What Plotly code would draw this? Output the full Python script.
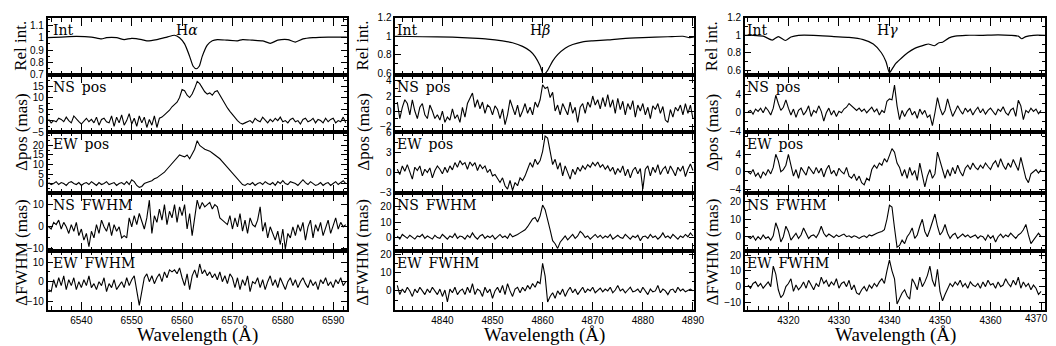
import plotly.graph_objects as go

# ---------------- data ----------------
lines = ["H<i>α</i>", "H<i>β</i>", "H<i>γ</i>"]
line_label_x = [6561.0, 4859.5, 4339.7]
row_labels = ["Int", "NS\u2002pos", "EW\u2002pos", "NS\u2002FWHM", "EW\u2002FWHM"]
noisy_start = [6533.5, 4831.0, 4312.0]
noisy_step = 0.5

# H-alpha
ha_int_wl = [6533,6536,6539,6542,6544,6545,6547,6548.5,6550,6552,6553,6555,6557,6558.5,6559.5,
             6560.5,6561.5,6562.2,6562.8,6563.4,6564,6565,6566,6567,6569,6571,6572,6574,6576,6577.5,
             6579,6581,6582.5,6584,6586,6589,6593]
ha_int = [1.0,1.005,1.01,1.005,0.99,1.0,1.0,0.985,0.995,0.985,0.975,0.985,1.005,1.02,1.0,
          0.95,0.85,0.77,0.75,0.77,0.85,0.94,0.975,0.985,0.98,0.975,0.985,0.98,0.975,0.955,
          0.98,0.985,0.965,0.99,1.0,1.005,1.005]
ha_ns_pos = [0.5,-1,0,-0.5,1,0.5,-0.5,1.5,0,-1,2,0.5,-0.5,-1.5,0,1,-0.5,0.5,-1,1.5,-2,0.5,1,-0.5,
             -1,2,-2.5,1.5,-1,2.5,-2,0,3,-1.5,1,-2.5,2,-1,1.5,-3,0.5,-2,2,-3,
             1,1.5,2.5,3.5,4.5,6,7,8,10,13.5,13,11,10,11.5,14,17,
             16,14,12.5,11.5,12,11,12.5,13,11,9,7,5.5,4,2.5,1,0,-1,-1.5,
             -1,-0.5,0,-1,1,0,-0.5,1.5,0,-1,0.5,-0.5,1,0,1.5,-0.5,0,-1,0.5,1,-0.5,0,-1.5,0.5,1,-0.5,
             0,1,-1,0.5,0,-1,1,-0.5,0.5,1,-1,0,-0.5,1.5,-1]
ha_ew_pos = [0.5,-0.5,0,1,-0.5,0.5,0,-1,0.5,1,0,-0.5,0.5,-1,0,0.5,-0.5,1,0,-1,0.5,-0.5,0,1,-0.5,0,0.5,-1,0,0.5,-0.5,1,-0.5,2,
             1,-1,-2,-1.5,0,
             0.5,1,1.5,2.5,3,4,5,6,7.5,9,10.5,12,13.5,15,14.5,14,15,13,15.5,18,22.5,20,
             19,18,17.5,17,16,15,14,13,11.5,10,8.5,7,5.5,4,2.5,1,-0.5,
             -1,0,-0.5,0.5,-1,0,0.5,-0.5,1,0,-0.5,0.5,-1,1,0,1.5,0,-0.5,1,0.5,0,-1,0.5,2,0.5,-0.5,1,0,-1,-0.5,
             0.5,-1,0,0.5,-1,0,1,-0.5,0.5,1.5,0]
ha_ns_fwhm = [0,-1,2,1,3,-1,2,0,-3,1,-2,2,-4,-1,-6,-3,-9,-2,-5,1,-3,3,0,-2,2,-4,1,-2,0,-5,-4,-5,
              4,0,5,1,6,2,-1,4,12,-3,
              5,2,8,3,10,1,7,4,10,2,9,5,10,-1,6,-4,3,
              12,8,11,9,10,11,8,10,9,4,
              3,2,1,5,-1,4,0,6,-2,3,-3,4,1,0,3,9,
              -2,2,-5,0,-3,-6,-2,-8,-1,-10,-3,
              -5,0,-4,1,-2,2,-6,0,3,-5,1,-2,2,-4,0,3,-3,1,4,-1,2,0,1]
ha_ew_fwhm = [-4,-5,1,-3,2,-2,3,-4,1,-2,2,-4,0,-3,1,-2,3,-3,-1,-4,0,-2,2,-5,-1,-3,1,-4,-2,0,-3,2,-2,1,
              3,-4,-12,-5,2,4,
              0,3,-1,2,4,0,5,2,
              6,5,6,4,7,2,-2,4,-4,3,6,2,9,
              4,6,3,5,2,4,1,5,0,3,-1,4,2,
              -3,2,-4,1,-2,3,-5,0,-1,2,-3,1,-4,0,3,-2,1,-3,2,-1,-4,0,2,-2,1,-3,0,2,-1,-3,1,-2,0,-4,1,-1,2,-2,0,-3,1,-1,2,-2,0]

# H-beta
hb_int_wl = [4830.5,4836,4842,4846,4849,4852,4854,4856,4857.5,4858.5,4859.5,4860.2,4861,4862,4863,
             4864.5,4866,4868,4870,4873,4876,4880,4885,4888,4889.3,4890,4890.5]
hb_int = [1.0,0.995,0.99,0.98,0.97,0.95,0.93,0.89,0.84,0.78,0.68,0.58,0.63,0.73,0.8,
          0.87,0.91,0.94,0.95,0.96,0.975,0.985,0.995,1.0,0.985,0.99,1.0]
hb_ns_pos = [1.2,-1,0.5,1.5,1,-0.5,1.5,0,-1,0.5,1,-0.5,-1,0.8,0,
             -1,-0.5,-1.2,0,-1.5,-0.8,-1.2,0.3,-1,-0.5,-1.5,0.5,-0.8,1,1.8,
             2.4,0.5,1.5,0.3,1.2,-0.3,0.8,0.5,-0.5,0.7,0.2,-1,0.3,
             -1.8,-0.5,1.5,0.5,-0.5,0.8,-0.8,0,1,-0.3,0.5,-0.5,1.2,0.5,1.5,
             3.5,3,3.2,1.8,2.5,0,0.8,
             -0.5,1,0.2,-0.5,1.2,-0.3,0.5,-1.5,0.5,1,-0.3,1.2,0.5,2,0.8,1.5,0.3,1.8,0.6,
             2.2,0.5,1.5,-0.3,1.7,0.2,1.3,-0.5,1,0.2,1.4,-0.8,0.8,0,1,-0.5,0.5,-1,0.7,0.2,1,-0.3,0.6,-1.2,-1.5,
             0.2,-0.8,0.5,0,0.8,-0.5,1,-0.3,0.8,-1]
hb_ew_pos = [0.5,-0.3,1,0.2,1.2,0,-1,0.8,0.3,1,-0.5,0.5,0,0.7,-0.8,
             0.3,1,0.5,-0.2,0.8,0,1,0.4,1.5,0.8,1.8,1.2,1.5,0.5,1.6,
             1,1.5,0.3,1.2,0.6,1,0,0.5,-0.5,-0.3,-1,
             -1.5,-0.8,-2,-2.5,-1.2,-2.7,-1.5,-2,-0.8,-1.2,
             -0.5,0.5,1.5,0.8,2,1.2,1.8,
             3.2,5.5,5.2,3,1.2,2,
             0.5,1.5,-0.5,1,0,-1,0.5,-0.3,0.8,0.2,1,0.5,1.2,0.8,1.5,1,1.6,0.8,1.2,
             0.5,1,0.2,0.8,-0.3,0.6,0,1,-0.5,0.5,-0.8,0.3,0.8,-0.2,0.6,-2.5,0.5,1,-0.5,0.8,0,1.2,-0.3,0.5,0.9,
             -0.2,1,0.3,-0.5,0.8,0.2,1,-0.6,0.5,1.3,0.3]
hb_ns_fwhm = [1,-1,2,0.5,-0.5,1.5,0,-1,1,0.5,2,-0.5,1,0,-1,
              1.5,0,-0.5,2,0.5,-1,1,0,2.5,-0.5,1,0.5,-1,1.5,0,3,
              0.5,-1,1,2,-0.5,1,0,1.5,-1,0.5,2,0,1,-0.5,2.5,0.5,1,2,
              3,4,5,7,10,12,13,10,14,21,
              18,12,5,-2,-4,-7,-3,-1,
              1,-1.5,0.5,2,-0.5,1,4,2.5,0,1,-1,0.5,2,0,1.5,-0.5,
              1,0,2,-1,0.5,1.5,0,-0.5,2,0.5,-1,1,0,1.5,-2,0.5,1,-0.5,2,0,1,-1,0.5,3,0,1,-0.5,2,0.5,-1,1,0,2,0.5,3,1]
hb_ew_fwhm = [3,-2,1,-1,2,0,-3,1,-1,2,0,-2,1,-1,2,
              0,-2,1,-3,0.5,-6,1,-1,2,-2,0,1,-2,2,-1,4,
              -2,1,0,-3,2,-1,1,-4,0,2,-1,3,-2,4,0,-3,1,2,
              -1,2,0,3,1,4,2,5,4,15,8,
              -6,-3,-1,-4,0,-2,1,
              -3,0,2,-1,1,-2,0,2,-1,1,0,2,-1,0,1.5,-0.5,1,0,2,-1,0.5,3,0,1,-1,0.5,2,-0.5,0,1,
              -1,2,0,-2,1,-0.5,0,3,-1,1,0,-2,0.5,1,-1,2,0,1,-0.5,0.5,1,0]

# H-gamma
hg_int_wl = [4311.4,4313,4315,4316.8,4318,4319.4,4320.5,4322,4325,4329,4332,4334.8,4336.8,4338.4,4339.3,
             4340,4340.6,4341.3,4342.4,4343.6,4345,4345.9,4347,4347.7,4348.9,4349.8,4350.5,4351.8,4353,4355.1,
             4358,4361.5,4364,4365.5,4366.2,4367,4368.5,4370.8]
hg_int = [1.0,1.0,0.99,0.945,0.985,0.94,0.98,1.0,1.0,0.985,0.975,0.95,0.9,0.8,0.7,
          0.57,0.62,0.68,0.74,0.8,0.85,0.87,0.89,0.9,0.88,0.915,0.92,0.97,0.99,1.0,
          1.0,1.005,1.0,0.99,0.96,0.985,1.0,1.0]
hg_ns_pos = [0.2,0.5,-0.3,0.8,0.3,1,0,1.2,0.5,-0.5,1,
             3.8,2,0.5,1.2,2.8,1,
             -0.5,0.8,-1,0.5,1,-0.5,0.3,1.5,-0.8,0.5,0,1.5,0.3,
             -1.8,0,1,-0.5,0.5,-0.8,0.3,0,0.8,1.2,2,1.5,0.8,
             0.5,1,0.3,0.8,0,0.6,1.2,0.2,0.8,-0.5,0.5,0,
             2.5,3,2.8,6,1.5,-1.5,
             0.5,-0.8,0.3,1,-0.5,0.3,-1.2,0.8,-0.3,0.5,-1,
             -0.5,-2.8,0,3.3,1,-0.5,0.5,3,1,-0.8,
             0.3,1.5,0.5,-0.3,1,0.2,0.8,-0.5,0.5,1.2,0,0.8,-0.3,0.5,1,0.2,-0.5,0.8,0.3,1.3,0,-0.5,0.6,1,-0.8,
             2.7,1.5,-1.5,0.5,0,1,0.3,0.8,-0.2,0.5]
hg_ew_pos = [0,-0.5,0.5,-1,-0.3,-1.5,0,-0.8,0.5,-0.5,1,
             4,2.5,0,0.5,1.5,4,1.5,
             -1,0.5,-1.5,1,0,-0.8,1.2,0.3,-0.5,1,-0.3,0.8,-1.2,0.5,1.5,-0.5,0.3,-1,0.8,0,-0.5,1,
             -1,-1.5,-0.5,-2,-1,-2.5,-3,-1.5,-2,
             0.5,1.5,0.8,2,1.5,3,2.2,
             4,5.3,4.5,2,1,
             -1,0.5,-1.5,1,-0.8,0.3,-2,2,-0.5,-3.5,-1,0.5,-1.5,-0.5,
             4.5,2.5,0,-1.5,0.5,-1,
             1,-0.5,1.5,0,-1,0.8,1.5,0.5,2,1,0.5,1.5,0.8,2,1.2,0.5,1.8,2.5,1,3,1.5,0.5,2,1,2.8,1.5,0.3,3.3,1,-1.5,
             -2.5,-0.5,0,0.5,-0.3,0.5]
hg_ns_fwhm = [0,-1,0.5,-2,0,-1.5,1,-1,0,-2,0.5,
              8,4,-3,0,6,3,-2,
              0,2,-1,1,5,2,-1,0.5,1,-0.5,2,6,
              2,0,1.5,0.5,-0.5,1,0,0.8,1.5,0,0.5,-0.5,0.5,0,-1,
              0,0.5,-0.5,1,0.5,1.5,2,2.5,3,4,10,
              18,17,5,-6,-5,
              -2,-4,0,2,5,-1,1,6,10,3,0,4,8,13,6,1,3,7,2,-1,
              1,2,-1,0.5,1.5,0,1,-0.5,0.5,1,-1,0.5,0,-2,1,-1,0.5,-3,0,1.5,-0.5,1,0,2,0.5,-1,1,2,4,7,
              1,-4,-2,0,2,0]
hg_ew_fwhm = [1,-1,2,3,0,2,-1,1,3,0,13,
              8,-2,-7,-5,0,2,5,
              -3,1,-2,0,3,-1,4,1,-2,2,0,6,
              2,4,0,3,1,5,-1,2,3,0,4,-2,1,-4,-5,
              -2,0,-3,1,-1,2,0,3,5,2,10,
              17,10,5,-11,-7,
              -4,-2,-6,-8,5,2,-2,6,0,3,7,13,4,0,11,-3,-9,-5,-1,2,0,3,
              1,4,0,2,-1,3,1,0,2,-1,3,0,4,1,2,-1,3,0,1,5,2,0,4,1,6,-1,3,0,2,-2,1,-1,-5,-3]

int_wl = [ha_int_wl, hb_int_wl, hg_int_wl]
int_vals = [ha_int, hb_int, hg_int]
noisy = [[ha_ns_pos, ha_ew_pos, ha_ns_fwhm, ha_ew_fwhm],
         [hb_ns_pos, hb_ew_pos, hb_ns_fwhm, hb_ew_fwhm],
         [hg_ns_pos, hg_ew_pos, hg_ns_fwhm, hg_ew_fwhm]]

xranges = [(6533.3, 6592.7), (4830.6, 4890.3), (4311.4, 4370.8)]
xtick_labels = [[6540, 6550, 6560, 6570, 6580, 6590],
                [4840, 4850, 4860, 4870, 4880, 4890],
                [4320, 4330, 4340, 4350, 4360]]
yranges = [
    [(0.7, 1.16), (-5, 19.8), (-5, 27), (-11, 15.2), (-14.5, 15.5)],
    [(0.58, 1.2), (-2.8, 4.8), (-3.1, 6.1), (-8.8, 28.7), (-10.5, 21.6)],
    [(0.545, 1.2), (-4.2, 8.2), (-4.9, 9.1), (-8.3, 25), (-15, 22.5)],
]
ytick_labels = [
    [[0.7, 0.8, 0.9, 1, 1.1], [-5, 0, 5, 10, 15], [0, 5, 10, 15, 20], [-10, 0, 10], [-10, 0, 10]],
    [[0.6, 0.8, 1, 1.2], [-2, 0, 2, 4], [-3, 0, 3, 6], [0, 10, 20], [0, 10, 20]],
    [[0.6, 0.8, 1, 1.2], [-4, 0, 4], [-4, 0, 4], [0, 10, 20], [-10, 0, 10, 20]],
]
yminor = [[0.05, 2.5, 2.5, 5, 5], [0.1, 1, 1.5, 5, 5], [0.1, 2, 2, 5, 5]]

# ---------------- layout ----------------
W, H = 1056, 346
col_px = [(40, 342), (391, 693), (744, 1047)]
row_px = [(5, 64), (64, 123), (123, 186), (186, 246), (246, 307)]
label_serif = "DejaVu Serif"
title_serif = "Liberation Serif"
title_font = dict(family=title_serif, size=17, color="black")
tick_font = dict(family="Liberation Sans", size=10, color="black")


def fmt(v):
    s = f"{v:g}"
    return s.replace("-", "\u2212")


fig = go.Figure()
layout = dict(width=W, height=H, margin=dict(l=0, r=0, t=0, b=0),
              paper_bgcolor="white", plot_bgcolor="white", showlegend=False)
annotations = []

for c in range(3):
    for r in range(5):
        k = r * 3 + c + 1
        xs = "x" if k == 1 else f"x{k}"
        ys = "y" if k == 1 else f"y{k}"
        if r == 0:
            fig.add_trace(go.Scatter(x=int_wl[c], y=int_vals[c], mode="lines",
                                     line=dict(color="black", width=1.2, shape="spline", smoothing=0.6),
                                     xaxis=xs, yaxis=ys, hoverinfo="skip"))
        else:
            vals = noisy[c][r - 1]
            xv = [noisy_start[c] + noisy_step * i for i in range(len(vals))]
            fig.add_trace(go.Scatter(x=xv, y=vals, mode="lines",
                                     line=dict(color="black", width=1.1, shape="linear"),
                                     xaxis=xs, yaxis=ys, hoverinfo="skip"))
        x0, x1 = col_px[c]
        y0, y1 = row_px[r]
        common = dict(showline=True, linecolor="black", linewidth=1.6, mirror="ticks",
                      ticks="inside", tickcolor="black", tickwidth=1.2, showgrid=False,
                      zeroline=False, tickfont=tick_font, fixedrange=True)
        xt = xtick_labels[c]
        xa = dict(common, domain=[x0 / W, x1 / W], range=list(xranges[c]), anchor=ys,
                  tickmode="array", tickvals=list(range(int(xranges[c][0] // 10 * 10 + 10),
                                                        int(xranges[c][1]) + 1, 10)),
                  ticklen=8,
                  minor=dict(ticks="inside", dtick=2, tick0=0, ticklen=4, tickcolor="black",
                             tickwidth=1, showgrid=False),
                  showticklabels=(r == 4))
        xa["ticktext"] = [str(v) if v in xt else "" for v in xa["tickvals"]]
        yt = ytick_labels[c][r]
        ya = dict(common, domain=[1 - y1 / H, 1 - y0 / H], range=list(yranges[c][r]),
                  anchor=xs, tickmode="array", tickvals=yt, ticktext=[fmt(v) for v in yt],
                  ticklen=6,
                  minor=dict(ticks="inside", dtick=yminor[c][r], tick0=0, ticklen=3,
                             tickcolor="black", tickwidth=1, showgrid=False))
        layout["xaxis" if k == 1 else f"xaxis{k}"] = xa
        layout["yaxis" if k == 1 else f"yaxis{k}"] = ya

        # panel label
        off = 3 if c == 0 else 0
        annotations.append(dict(text=row_labels[r], xref=f"{xs} domain", yref=f"{ys} domain",
                                x=off / (x1 - x0), y=1 - 2 / (y1 - y0), xanchor="left", yanchor="top",
                                showarrow=False, font=dict(family=label_serif, size=14, color="black")))
        if r == 0:
            annotations.append(dict(text=lines[c], xref=xs, yref=f"{ys} domain",
                                    x=line_label_x[c], y=1 - 2 / (y1 - y0), xanchor="center", yanchor="top",
                                    showarrow=False, font=dict(family=label_serif, size=14, color="black")))

    # axis titles for this column
    tx = [13, 358, 711][c]
    for text, yc in [("Rel int.", 34), ("Δpos (mas)", 123), ("ΔFWHM (mas)", 247)]:
        annotations.append(dict(text=text, xref="paper", yref="paper", x=tx / W, y=1 - yc / H,
                                xanchor="center", yanchor="middle", textangle=-90, showarrow=False,
                                font=title_font))
    annotations.append(dict(text="Wavelength (Å)", xref="paper", yref="paper",
                            x=(col_px[c][0] + col_px[c][1]) / 2 / W, y=1 - 333 / H,
                            xanchor="center", yanchor="middle", showarrow=False,
                            font=dict(family=title_serif, size=19, color="black")))

# last tick label of the right-hand column, kept inside the page
annotations.append(dict(text="4370", xref="paper", yref="paper", x=1052 / W, y=1 - 316 / H,
                        xanchor="right", yanchor="middle", showarrow=False, font=tick_font))

layout["annotations"] = annotations
fig.update_layout(**layout)
fig.write_html("out.html")
